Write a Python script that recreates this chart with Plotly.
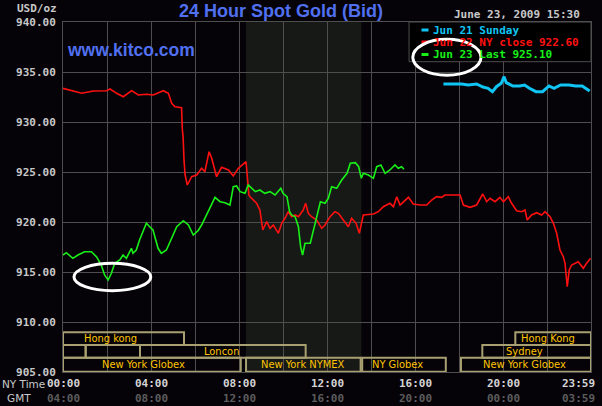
import plotly.graph_objects as go

# ---------------- data ----------------
series_names = ["Jun 21 Sunday", "Jun 22 NY close 922.60", "Jun 23 Last 925.10"]

cyan_h = [17.29, 18.12, 18.42, 18.8, 19.09, 19.32, 19.52, 19.7, 19.92, 20.05, 20.15, 20.45,
          20.76, 20.98, 21.2, 21.5, 21.8, 22.09, 22.32, 22.62, 23.0, 23.3, 23.6, 23.76, 23.94]
cyan_v = [933.8, 933.8, 933.7, 933.8, 933.5, 933.37, 933.03, 933.53, 933.87, 934.53, 933.93, 933.6,
          933.6, 933.7, 933.37, 933.03, 933.03, 933.6, 933.37, 933.7, 933.7, 933.6, 933.6, 933.37, 933.1]

red_h = [0, 0.47, 0.85, 1.38, 1.98, 2.14, 2.44, 2.74, 3.12, 3.42, 3.8, 4.1, 4.56, 4.79, 4.94, 5.09,
         5.39, 5.42, 5.46, 5.5, 5.55, 5.65, 5.85, 6.08, 6.3, 6.45, 6.64, 6.76, 6.98, 7.21, 7.52,
         7.74, 7.97, 8.32, 8.38, 8.45, 8.5, 8.8, 8.95, 9.08, 9.26, 9.41, 9.56, 9.79, 9.94, 10.09,
         10.24, 10.39, 10.55, 10.7, 10.92, 11.03, 11.15, 11.3, 11.53, 11.76, 11.91, 12.14, 12.36,
         12.52, 12.74, 12.97, 13.12, 13.32, 13.47, 13.65, 14.11, 14.33, 14.56, 14.86, 15.02, 15.17,
         15.32, 15.47, 15.7, 15.92, 16.23, 16.53, 16.76, 16.98, 17.21, 17.36, 18.05, 18.2, 18.5,
         18.8, 19.08, 19.26, 19.41, 19.64, 19.86, 20.02, 20.24, 20.39, 20.62, 20.85, 21.0, 21.1,
         21.3, 21.53, 21.76, 21.91, 22.14, 22.29, 22.44, 22.59, 22.74, 22.82, 22.92, 23.01, 23.12,
         23.42, 23.65, 23.8, 23.98]
red_v = [933.37, 933.13, 932.87, 933.1, 933.13, 933.3, 932.87, 932.53, 933.13, 932.7, 932.77, 932.7,
         933.13, 932.87, 931.87, 931.53, 931.43, 929.37, 928.47, 926.2, 924.7, 923.7, 924.53, 924.7,
         925.37, 925.03, 927.03, 926.37, 924.53, 925.47, 925.2, 924.6, 925.37, 926.03, 924.2, 922.7,
         922.53, 921.87, 921.2, 919.2, 920.03, 919.37, 919.7, 918.87, 919.87, 920.37, 921.03, 920.53,
         920.7, 920.53, 921.2, 921.87, 920.87, 920.53, 920.2, 919.37, 919.7, 920.53, 921.03, 920.87,
         920.2, 919.53, 920.37, 919.87, 918.87, 920.7, 920.8, 921.03, 921.53, 921.87, 921.53, 922.53,
         921.7, 922.03, 922.47, 921.8, 921.7, 921.7, 922.2, 922.53, 922.47, 922.7, 922.7, 921.7,
         921.47, 921.7, 922.8, 922.03, 922.37, 922.03, 922.47, 922.03, 922.53, 921.87, 921.13, 921.03,
         921.2, 920.2, 920.7, 920.93, 920.7, 921.03, 920.53, 919.87, 918.87, 917.2, 916.53, 915.87,
         913.53, 915.2, 915.7, 916.03, 915.37, 915.87, 916.37]

green_h = [0, 0.15, 0.45, 0.68, 0.98, 1.29, 1.52, 1.74, 1.89, 2.05, 2.2, 2.35, 2.58, 2.73, 2.88,
           3.11, 3.18, 3.33, 3.48, 3.79, 3.94, 4.09, 4.32, 4.47, 4.7, 4.94, 5.17, 5.47, 5.7, 5.92,
           6.14, 6.3, 6.45, 6.68, 6.91, 7.14, 7.36, 7.59, 7.74, 7.89, 8.05, 8.27, 8.42, 8.5, 8.74,
           8.95, 9.17, 9.41, 9.64, 9.9, 10.0, 10.18, 10.3, 10.39, 10.55, 10.7, 10.8, 10.89, 11.0,
           11.24, 11.39, 11.53, 11.7, 11.91, 12.06, 12.21, 12.44, 12.67, 12.91, 13.06, 13.29, 13.44,
           13.56, 13.65, 13.88, 14.11, 14.26, 14.45, 14.64, 14.86, 15.09, 15.24, 15.39, 15.5]
green_v = [916.7, 916.93, 916.37, 916.7, 917.03, 917.03, 916.53, 915.7, 914.7, 914.2, 914.87, 915.87,
           916.2, 916.7, 916.37, 917.37, 916.87, 917.2, 918.2, 919.87, 919.53, 919.2, 917.37, 916.87,
           917.2, 918.37, 919.53, 920.13, 919.7, 918.7, 919.13, 919.7, 920.37, 921.53, 922.47, 922.03,
           921.93, 921.7, 923.53, 923.6, 923.03, 922.87, 923.7, 923.53, 923.03, 923.2, 922.87, 923.03,
           922.7, 923.37, 922.87, 922.53, 921.03, 920.7, 920.53, 919.53, 917.53, 916.7, 917.87, 917.87,
           919.2, 920.53, 922.03, 921.87, 922.37, 923.53, 923.37, 924.2, 924.87, 925.87, 925.93, 925.53,
           924.37, 924.87, 924.7, 924.37, 925.53, 925.7, 924.87, 925.2, 925.7, 925.37, 925.53, 925.27]

y_ticks = [905, 910, 915, 920, 925, 930, 935, 940]
x_tick_hours = [0, 4, 8, 12, 16, 20, 24]
ny_labels = ["00:00", "04:00", "08:00", "12:00", "16:00", "20:00", "23:59"]
gmt_labels = ["04:00", "08:00", "12:00", "16:00", "20:00", "00:00", "03:59"]

nymex_hours = [8.32, 13.56]

session_names = ["Hong kong", "", "", "Loncon", "New York Globex", "New York NYMEX",
                 "NY Globex", "New York Globex", "Sydney", "Hong Kong"]
session_start = [0, 0, 1.03, 3.5, 0, 8.32, 13.6, 18.09, 19.06, 20.56]
session_end = [5.5, 1.03, 3.5, 11.03, 8.08, 13.53, 17.4, 24, 24, 24]
session_row = [0, 1, 1, 1, 2, 2, 2, 2, 1, 0]
session_label_at = [2.15, 0, 0, 7.2, 3.65, 10.93, 15.2, 20.98, 20.98, 22.05]

# ---------------- styling ----------------
W, H = 602, 406
L, R, T, B = 63, 591, 22, 372
BG = "#050308"
GRID = "#4e4e4e"
BLUE = "#5070f0"
MONO = "DejaVu Sans Mono"
CYAN, RED, GREEN = "#10c4f4", "#ff1010", "#18f018"
BOX = "#a8a070"
GOLD = "#ffc400"
row_bounds = [(907.7, 908.97), (906.43, 907.7), (905.03, 906.43)]


def px(x):
    return (x - L) / (R - L)


def py(y):
    return (B - y) / (B - T)


fig = go.Figure()
fig.add_trace(go.Scatter(x=cyan_h, y=cyan_v, mode="lines", line=dict(color=CYAN, width=3),
                         name=series_names[0]))
fig.add_trace(go.Scatter(x=red_h, y=red_v, mode="lines", line=dict(color=RED, width=1.6),
                         name=series_names[1]))
fig.add_trace(go.Scatter(x=green_h, y=green_v, mode="lines", line=dict(color=GREEN, width=1.6),
                         name=series_names[2]))

shapes = []
# NYMEX trading band
shapes.append(dict(type="rect", xref="x", yref="y", x0=nymex_hours[0], x1=nymex_hours[1],
                   y0=905, y1=940, fillcolor="#161916", line=dict(width=0), layer="below"))
# session boxes
for s, e, r in zip(session_start, session_end, session_row):
    y0, y1 = row_bounds[r]
    shapes.append(dict(type="rect", xref="x", yref="y", x0=s, x1=e, y0=y0, y1=y1,
                       line=dict(color=BOX, width=2), fillcolor="rgba(0,0,0,0)", layer="above"))
# legend box
shapes.append(dict(type="rect", xref="x", yref="y", x0=15.73, x1=24, y0=936.03, y1=940,
                   fillcolor="#000000", line=dict(color=GRID, width=1), layer="above"))
legend_rows = [30, 42, 54.5]
for yy, col in zip(legend_rows, [CYAN, RED, GREEN]):
    shapes.append(dict(type="line", xref="paper", yref="paper", x0=px(421.5), x1=px(428.5),
                       y0=py(yy), y1=py(yy), line=dict(color=col, width=3), layer="above"))
# hand-drawn ellipses
shapes.append(dict(type="circle", xref="x", yref="y", x0=0.5, x1=3.99, y0=913.13, y1=915.87,
                   line=dict(color="white", width=3), layer="above"))
shapes.append(dict(type="circle", xref="x", yref="y", x0=15.9, x1=19.0, y0=934.67, y1=938.27,
                   line=dict(color="white", width=3), layer="above"))

ann = []
ann.append(dict(text="24 Hour Spot Gold (Bid)", xref="paper", yref="paper", x=px(281), y=py(11),
                showarrow=False, font=dict(family="Liberation Sans", size=18, color=BLUE, weight="bold"),
                xanchor="center", yanchor="middle"))
ann.append(dict(text="www.kitco.com", xref="paper", yref="paper", x=px(65), y=py(50),
                showarrow=False, font=dict(family="Liberation Sans", size=17.5, color=BLUE, weight="bold"),
                xanchor="left", yanchor="middle"))
ann.append(dict(text="USD/oz", xref="paper", yref="paper", x=px(58.5), y=py(8.5),
                showarrow=False, font=dict(family=MONO, size=11, color="#c8c8c8", weight="bold"),
                xanchor="right", yanchor="middle"))
ann.append(dict(text="June 23, 2009 15:30", xref="paper", yref="paper", x=px(582), y=py(15),
                showarrow=False, font=dict(family=MONO, size=11, color="#c8c8c8", weight="bold"),
                xanchor="right", yanchor="middle"))
for yy, col, name in zip(legend_rows, [CYAN, RED, GREEN], series_names):
    ann.append(dict(text=name, xref="paper", yref="paper", x=px(431), y=py(yy),
                    showarrow=False, font=dict(family=MONO, size=11, color=col, weight="bold"),
                    xanchor="left", yanchor="middle"))
# x tick labels (two rows)
for h, a, b in zip(x_tick_hours, ny_labels, gmt_labels):
    xa = "center"
    shift = 0
    if h == 24:
        xa = "right"
        shift = 6
    ann.append(dict(text=a, xref="x", yref="paper", x=h, y=py(383.5), xshift=shift, showarrow=False,
                    font=dict(family=MONO, size=11, color="#d4d4d4", weight="bold"),
                    xanchor=xa, yanchor="middle"))
    ann.append(dict(text=b, xref="x", yref="paper", x=h, y=py(398.5), xshift=shift, showarrow=False,
                    font=dict(family=MONO, size=11, color="#5c5c5c", weight="bold"),
                    xanchor=xa, yanchor="middle"))
ann.append(dict(text="NY Time", xref="paper", yref="paper", x=px(23.5), y=py(384), showarrow=False,
                font=dict(family="DejaVu Sans", size=10.5, color="#c8c8c8"),
                xanchor="center", yanchor="middle"))
ann.append(dict(text="GMT", xref="paper", yref="paper", x=px(18.7), y=py(398), showarrow=False,
                font=dict(family="DejaVu Sans", size=10.5, color="#c8c8c8"),
                xanchor="center", yanchor="middle"))
# session labels
for name, at, r in zip(session_names, session_label_at, session_row):
    if not name:
        continue
    y0, y1 = row_bounds[r]
    ann.append(dict(text=name, xref="x", yref="y", x=at, y=(y0 + y1) / 2, showarrow=False,
                    font=dict(family="Liberation Sans Narrow, DejaVu Sans Condensed, Liberation Sans",
                              size=11, color=GOLD),
                    xanchor="center", yanchor="middle"))

fig.update_layout(
    width=W, height=H,
    margin=dict(l=L, r=W - R, t=T, b=H - B, pad=0, autoexpand=False),
    paper_bgcolor=BG, plot_bgcolor=BG,
    showlegend=False,
    shapes=shapes, annotations=ann,
    xaxis=dict(range=[0, 24], tickvals=list(range(0, 25, 2)), showticklabels=False,
               showgrid=True, gridcolor=GRID, gridwidth=1, zeroline=False, automargin=False,
               showline=True, linecolor=GRID, mirror=True, ticks=""),
    yaxis=dict(range=[905, 940], tickvals=y_ticks, ticktext=[f"{v:.2f}" for v in y_ticks],
               showgrid=True, gridcolor=GRID, gridwidth=1, zeroline=False, automargin=False,
               showline=True, linecolor=GRID, mirror=True, ticks="",
               ticklabelstandoff=4,
               tickfont=dict(family=MONO, size=11, color="#c8c8c8", weight="bold")),
)

fig.write_html(
    "out.html",
    config={"displayModeBar": False},
    post_script="document.body.style.margin='0';document.body.style.background='#050308';",
)
